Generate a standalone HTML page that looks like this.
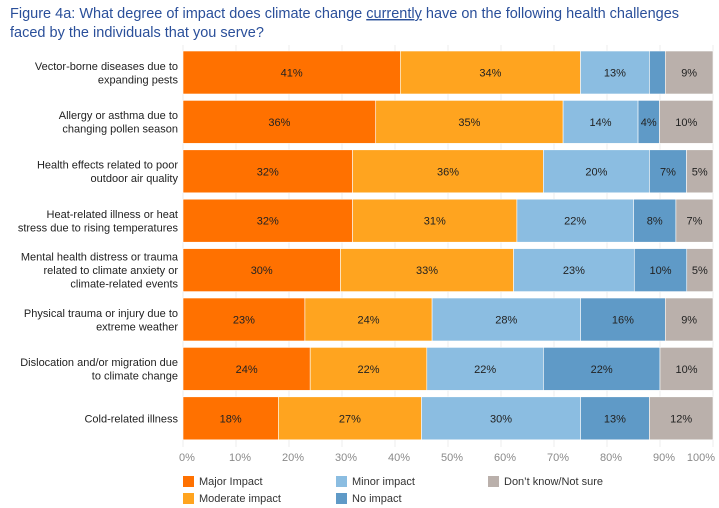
<!DOCTYPE html>
<html><head><meta charset="utf-8"><style>
body{margin:0;background:#fff;}
svg{display:block;font-family:"Liberation Sans",sans-serif;}
</style></head><body>
<svg id="c" width="719" height="508" viewBox="0 0 719 508">
<text x="10" y="18" font-size="14.5" fill="#2a4f9a">Figure 4a: What degree of impact does climate change <tspan text-decoration="underline">currently</tspan> have on the following health challenges</text>
<text x="10" y="37" font-size="14.5" fill="#2a4f9a">faced by the individuals that you serve?</text>
<g id="grid"></g><g id="bars"></g><g id="cats"></g><g id="ticks"></g>
<g font-size="11" fill="#333">
<rect x="183" y="476" width="11" height="11" fill="#ff7100"/><text x="199" y="485">Major Impact</text>
<rect x="183" y="493" width="11" height="11" fill="#ffa41f"/><text x="199" y="502">Moderate impact</text>
<rect x="336" y="476" width="11" height="11" fill="#8bbde1"/><text x="352" y="485">Minor impact</text>
<rect x="336" y="493" width="11" height="11" fill="#5f9ac7"/><text x="352" y="502">No impact</text>
<rect x="488" y="476" width="11" height="11" fill="#bab0ab"/><text x="504" y="485">Don’t know/Not sure</text>
</g>
</svg>
<script>
const categories=[["Vector-borne diseases due to","expanding pests"],["Allergy or asthma due to","changing pollen season"],["Health effects related to poor","outdoor air quality"],["Heat-related illness or heat","stress due to rising temperatures"],["Mental health distress or trauma","related to climate anxiety or","climate-related events"],["Physical trauma or injury due to","extreme weather"],["Dislocation and/or migration due","to climate change"],["Cold-related illness"]];
const major=[41,36,32,32,30,23,24,18];
const moderate=[34,35,36,31,33,24,22,27];
const minor=[13,14,20,22,23,28,22,30];
const noImpact=[3,4,7,8,10,16,22,13];
const dontKnow=[9,10,5,7,5,9,10,12];
const tickValues=[0,10,20,30,40,50,60,70,80,90,100];
const seriesNames=["major","moderate","minor","none","dontknow"];
const colors=["#ff7100","#ffa41f","#8bbde1","#5f9ac7","#bab0ab"];
const NS="http://www.w3.org/2000/svg";
const x=v=>183+v*5.3;
const yTop=i=>51+i*49.4;
const BH=43;
function mk(tag,attrs,parent){const e=document.createElementNS(NS,tag);for(const k in attrs)e.setAttribute(k,attrs[k]);parent.appendChild(e);return e;}
const grid=document.getElementById('grid'),ticks=document.getElementById('ticks'),bars=document.getElementById('bars'),cats=document.getElementById('cats');
tickValues.forEach(t=>{
  const l=mk('line',{x1:x(t),x2:x(t),y1:45,y2:447,stroke:'#ececec','stroke-width':1},grid);
  
  
  const tx=mk('text',{x:x(t)+(t===100?-12:4),y:461,'font-size':11,fill:'#8a8a8a','text-anchor':'middle'},ticks);
  tx.textContent=t+'%';
  
  
});
const series=[major,moderate,minor,noImpact,dontKnow];
categories.forEach((cat,i)=>{
  let acc=0;const yt=yTop(i);
  const total=series.reduce((s,a)=>s+a[i],0);
  const nx=v=>x(v*100/total);
  series.forEach((s,j)=>{
    const v=s[i];
    const r=mk('rect',{x:nx(acc),y:yt,width:Math.max(0,nx(acc+v)-nx(acc)),height:BH,fill:colors[j],stroke:'#fff','stroke-width':0.6},bars);
    
    
    if(v>=4){
      const t=mk('text',{x:(nx(acc)+nx(acc+v))/2,y:yt+BH/2+4,'font-size':11,fill:'#222','text-anchor':'middle'},bars);
      t.textContent=v+'%';
      
      
    }
    acc+=v;
  });
  const n=cat.length,lh=13.5,cy=yt+BH/2;
  cat.forEach((line,k)=>{
    const t=mk('text',{x:178,y:cy-(n-1)*lh/2+k*lh+4,'font-size':11,fill:'#222','text-anchor':'end'},cats);
    t.textContent=line;
    
    
  });
});
</script>
</body></html>
